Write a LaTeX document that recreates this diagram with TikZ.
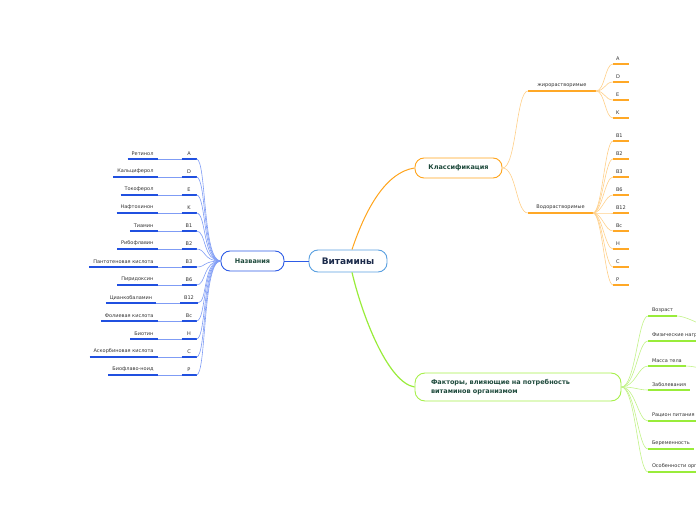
\documentclass[tikz,border=0pt]{standalone}
\usepackage{fontspec}
\setmainfont{DejaVu Sans}
\usetikzlibrary{positioning}
\definecolor{rootblue}{HTML}{5AA0E0}
\definecolor{namblue}{HTML}{2E5CE6}
\definecolor{namline}{HTML}{7F9CF5}
\definecolor{namul}{HTML}{2050E0}
\definecolor{klorange}{HTML}{FFA41C}
\definecolor{klline}{HTML}{FFD08A}
\definecolor{klul}{HTML}{FFA826}
\definecolor{fagreen}{HTML}{A6F04A}
\definecolor{faline}{HTML}{C2F288}
\definecolor{faul}{HTML}{99EC3A}
\definecolor{titletext}{HTML}{1E4A3C}
\definecolor{roottext}{HTML}{1B2A4A}
\definecolor{leaftext}{HTML}{333333}

\begin{document}
\begin{tikzpicture}[x=1pt,y=1pt,semithick]
\tikzstyle{topic}=[draw,rounded corners=9pt,fill=white,line width=0.9pt,font=\fontsize{6.5}{9}\selectfont\bfseries,text=titletext,inner sep=0pt]
\tikzstyle{leaf}=[font=\fontsize{5}{6}\selectfont,text=leaftext,inner ysep=0pt,inner xsep=4pt,outer sep=0pt,minimum height=11pt]
\tikzstyle{namleaf}=[leaf,append after command={(\tikzlastnode.south west) edge[draw=namul,line width=1.6pt] (\tikzlastnode.south east)}]
\tikzstyle{klleaf}=[leaf,append after command={(\tikzlastnode.south west) edge[draw=klul,line width=1.6pt] (\tikzlastnode.south east)}]
\tikzstyle{faleaf}=[leaf,anchor=south west,append after command={(\tikzlastnode.south west) edge[draw=faul,line width=1.6pt] (\tikzlastnode.south east)}]
\tikzstyle{letter}=[namleaf,minimum width=15pt]
\tikzstyle{rleaf}=[klleaf,text width=10pt,inner xsep=3pt,align=left]
\tikzstyle{lfan}=[draw=namline,line width=0.6pt,out=180,in=0,out distance=18pt,in distance=10pt]
\tikzstyle{nconn}=[draw=namline,line width=0.6pt]
\tikzstyle{cfan}=[draw=klline,line width=0.6pt,out=0,in=180,out distance=14pt,in distance=12pt]
\tikzstyle{rfan}=[draw=klline,line width=0.6pt,out=0,in=180,out distance=9pt,in distance=8pt]
\tikzstyle{ffan}=[draw=faline,line width=0.6pt,out=0,in=180,out distance=14pt,in distance=10pt]
\clip (0,0) rectangle (696,520);

% main topics
\node[topic,draw=rootblue,text=roottext,font=\fontsize{9}{11}\selectfont\bfseries,minimum width=78pt,minimum height=22pt] (root) at (348,259) {Витамины};
\node[topic,draw=namblue,minimum width=63pt,minimum height=20pt] (naz) at (252.5,259) {Названия};
\node[topic,draw=klorange,minimum width=87pt,minimum height=20pt] (kl) at (458.5,352) {Классификация};
\node[topic,draw=fagreen,rounded corners=10pt,text width=174pt,inner xsep=16pt,minimum height=28pt,align=left] (fa) at (518,133) {Факторы, влияющие на потребность\\витаминов организмом};

\path (root) edge[draw=namblue,line width=0.8pt] (naz);
\draw[klorange,line width=1pt] ([xshift=4pt]root.north) .. controls +(14,42) and +(-28,-4) .. (kl.west);
\draw[faul,line width=1.2pt] ([xshift=4pt]root.south) .. controls +(12,-50) and +(-25,4) .. (fa.west);

% names
\node[letter] (lA) at (189,366.5) {A};
\node[letter,below=7pt of lA] (lD) {D};
\node[letter,below=7pt of lD] (lE) {E};
\node[letter,below=7pt of lE] (lK) {K};
\node[letter,below=7pt of lK] (lB1) {B1};
\node[letter,below=7pt of lB1] (lB2) {B2};
\node[letter,below=7pt of lB2] (lB3) {B3};
\node[letter,below=7pt of lB3] (lB6) {B6};
\node[letter,below=7pt of lB6] (lB12) {B12};
\node[letter,below=7pt of lB12] (lBc) {Bc};
\node[letter,below=7pt of lBc] (lH) {H};
\node[letter,below=7pt of lH] (lC) {C};
\node[letter,below=7pt of lC] (lP) {P};
\node[namleaf,left=24pt of lA] (nA) {Ретинол};
\node[namleaf,left=24pt of lD] (nD) {Кальциферол};
\node[namleaf,left=24pt of lE] (nE) {Токоферол};
\node[namleaf,left=24pt of lK] (nK) {Нафтохинон};
\node[namleaf,left=24pt of lB1] (nB1) {Тиамин};
\node[namleaf,left=24pt of lB2] (nB2) {Рибофлавин};
\node[namleaf,left=24pt of lB3] (nB3) {Пантотеновая кислота};
\node[namleaf,left=24pt of lB6] (nB6) {Пиридоксин};
\node[namleaf,left=24pt of lB12] (nB12) {Цианкобаламин};
\node[namleaf,left=24pt of lBc] (nBc) {Фолиевая кислота};
\node[namleaf,left=24pt of lH] (nH) {Биотин};
\node[namleaf,left=24pt of lC] (nC) {Аскорбиновая кислота};
\node[namleaf,left=24pt of lP] (nP) {Биофлаво-ноид};
\path (naz) edge[lfan] (lA.south east) edge[lfan] (lD.south east) edge[lfan] (lE.south east)
            edge[lfan] (lK.south east) edge[lfan] (lB1.south east) edge[lfan] (lB2.south east)
            edge[lfan] (lB3.south east) edge[lfan] (lB6.south east) edge[lfan] (lB12.south east)
            edge[lfan] (lBc.south east) edge[lfan] (lH.south east) edge[lfan] (lC.south east)
            edge[lfan] (lP.south east);
\path (lA.south west) edge[nconn] (nA.south east)  (lD.south west) edge[nconn] (nD.south east)
      (lE.south west) edge[nconn] (nE.south east)  (lK.south west) edge[nconn] (nK.south east)
      (lB1.south west) edge[nconn] (nB1.south east)  (lB2.south west) edge[nconn] (nB2.south east)
      (lB3.south west) edge[nconn] (nB3.south east)  (lB6.south west) edge[nconn] (nB6.south east)
      (lB12.south west) edge[nconn] (nB12.south east)  (lBc.south west) edge[nconn] (nBc.south east)
      (lH.south west) edge[nconn] (nH.south east)  (lC.south west) edge[nconn] (nC.south east)
      (lP.south west) edge[nconn] (nP.south east);

% classification
\node[klleaf,minimum width=68pt] (zhir) at (562,434.5) {жирорастворимые};
\node[klleaf,minimum width=65pt] (vod) at (560.5,312.5) {Водорастворимые};
\node[rleaf,anchor=south west] (rA) at (613,456) {A};
\node[rleaf,below=7pt of rA] (rD) {D};
\node[rleaf,below=7pt of rD] (rE) {E};
\node[rleaf,below=7pt of rE] (rK) {K};
\node[rleaf,anchor=south west] (rB1) at (613,379) {B1};
\node[rleaf,below=7pt of rB1] (rB2) {B2};
\node[rleaf,below=7pt of rB2] (rB3) {B3};
\node[rleaf,below=7pt of rB3] (rB6) {B6};
\node[rleaf,below=7pt of rB6] (rB12) {B12};
\node[rleaf,below=7pt of rB12] (rBc) {Bc};
\node[rleaf,below=7pt of rBc] (rH) {H};
\node[rleaf,below=7pt of rH] (rC) {C};
\node[rleaf,below=7pt of rC] (rP) {P};
\path (kl) edge[cfan] (zhir.south west) edge[cfan] (vod.south west);
\path (zhir.south east) edge[rfan] (rA.south west) edge[rfan] (rD.south west)
                        edge[rfan] (rE.south west) edge[rfan] (rK.south west);
\path (vod.south east) edge[rfan] (rB1.south west) edge[rfan] (rB2.south west)
                       edge[rfan] (rB3.south west) edge[rfan] (rB6.south west)
                       edge[rfan] (rB12.south west) edge[rfan] (rBc.south west)
                       edge[rfan] (rH.south west) edge[rfan] (rC.south west)
                       edge[rfan] (rP.south west);

% factors
\node[faleaf] (fV) at (648,204) {Возраст};
\node[faleaf] (fF) at (648,179) {Физические нагрузки};
\node[faleaf] (fM) at (648,154) {Масса тела};
\node[faleaf] (fZ) at (648,130) {Заболевания};
\node[faleaf] (fR) at (648,99) {Рацион питания};
\node[faleaf] (fB) at (648,71) {Беременность};
\node[faleaf] (fO) at (648,48) {Особенности организма};
\coordinate (vz) at (730,185);
\coordinate (ms) at (730,146);
\path (fa) edge[ffan] (fV.south west) edge[ffan] (fF.south west) edge[ffan] (fM.south west)
           edge[ffan] (fZ.south west) edge[ffan] (fR.south west) edge[ffan] (fB.south west)
           edge[ffan] (fO.south west);
\path (fV.south east) edge[ffan,out distance=12pt,in distance=12pt] (vz)
      (fM.south east) edge[ffan,out distance=12pt,in distance=12pt] (ms);
\end{tikzpicture}
\end{document}
